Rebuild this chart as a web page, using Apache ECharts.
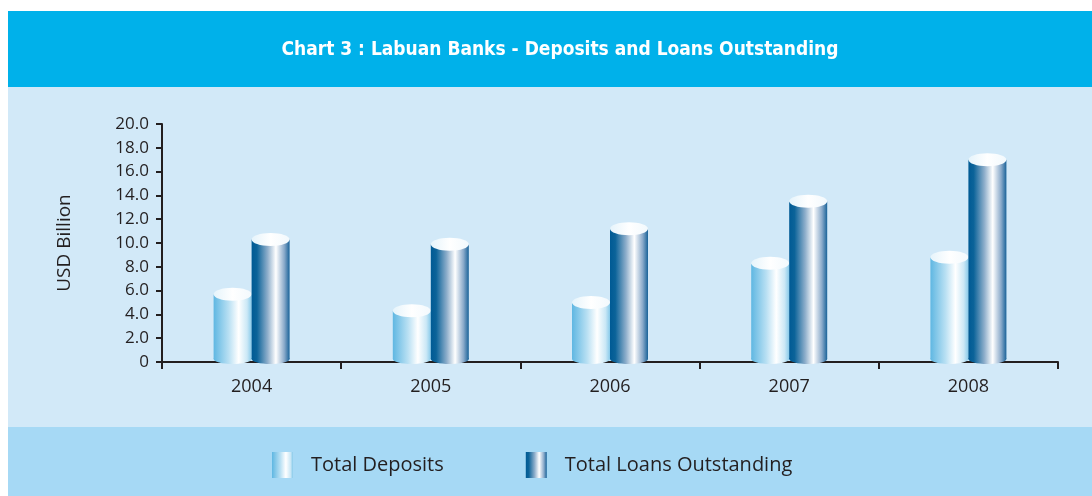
<!DOCTYPE html>
<html>
<head>
<meta charset="utf-8">
<script src="https://cdn.jsdelivr.net/npm/echarts@6/dist/echarts.min.js"></script>
<style>
  html, body { margin: 0; padding: 0; background: #fff; }
  #chart { width: 1092px; height: 496px; }
</style>
</head>
<body>
<div id="chart"></div>
<script>
// data
const years = ['2004', '2005', '2006', '2007', '2008'];
const deposits = [5.7, 4.3, 5.0, 8.3, 8.8];
const loans = [10.3, 9.9, 11.2, 13.5, 17.0];
const yTicks = [0, 2, 4, 6, 8, 10, 12, 14, 16, 18, 20];

const BAR_W = 38;

function grad(stops) {
  return new echarts.graphic.LinearGradient(0, 0, 1, 0, stops);
}
const depFill = [
  { offset: 0, color: '#5FB7E2' },
  { offset: 0.4, color: '#B9E0F3' },
  { offset: 0.66, color: '#FFFFFF' },
  { offset: 0.88, color: '#CBE8F6' },
  { offset: 1, color: '#88CAEA' }
];
const loanFill = [
  { offset: 0, color: '#005A94' },
  { offset: 0.14, color: '#0B6399' },
  { offset: 0.42, color: '#8EAECB' },
  { offset: 0.64, color: '#FFFFFF' },
  { offset: 0.86, color: '#8AAACA' },
  { offset: 1, color: '#1A6399' }
];

// a cylinder for one value, shifted left (deposits) or right (loans) of the category centre
function cylinder(fill, shift) {
  return function (params, api) {
    const base = api.coord([api.value(0), 0]);
    const top = api.coord([api.value(0), api.value(1)]);
    const x = base[0] + shift;
    const cx = x + BAR_W / 2;
    return {
      type: 'group',
      children: [
        { type: 'ellipse', shape: { cx: cx, cy: base[1] - 3, rx: BAR_W / 2, ry: 5 },
          style: { fill: grad(fill) } },
        { type: 'rect', shape: { x: x, y: top[1], width: BAR_W, height: base[1] - 3 - top[1] },
          style: { fill: grad(fill) } },
        { type: 'ellipse', shape: { cx: cx, cy: top[1], rx: BAR_W / 2, ry: 6.5 },
          style: { fill: grad([{ offset: 0, color: '#E6F4FB' }, { offset: 0.5, color: '#FFFFFF' }, { offset: 1, color: '#F2F9FD' }]) } }
      ]
    };
  };
}

const chart = echarts.init(document.getElementById('chart'));
chart.setOption({
  animation: false,
  graphic: [
    { type: 'rect', z: -10, shape: { x: 8, y: 11, width: 1084, height: 76 }, style: { fill: '#00B1EA' } },
    { type: 'rect', z: -10, shape: { x: 8, y: 87, width: 1084, height: 340 }, style: { fill: '#D2E9F8' } },
    { type: 'rect', z: -10, shape: { x: 8, y: 427, width: 1084, height: 69 }, style: { fill: '#A6D9F5' } }
  ],
  title: {
    text: 'Chart 3 : Labuan Banks - Deposits and Loans Outstanding',
    left: 555, top: 36, textAlign: 'center',
    textStyle: { color: '#fff', fontFamily: 'DejaVu Sans Condensed', fontWeight: 'bold', fontSize: 19 }
  },
  legend: {
    left: 267, top: 447,
    itemWidth: 21, itemHeight: 26, itemGap: 82,
    icon: 'rect',
    textStyle: { fontFamily: 'Open Sans', fontSize: 20, color: '#231F20', padding: [0, 0, 0, 13] },
    data: ['Total Deposits', 'Total Loans Outstanding']
  },
  grid: { left: 162, right: 34, top: 124, bottom: 134 },
  xAxis: {
    type: 'category',
    data: years,
    axisLine: { lineStyle: { color: '#231F20', width: 2 } },
    axisTick: { show: true, length: 7, lineStyle: { color: '#231F20', width: 2 } },
    axisLabel: { fontFamily: 'Open Sans', fontSize: 18, color: '#231F20', margin: 16 }
  },
  yAxis: {
    type: 'value',
    min: yTicks[0], max: yTicks[yTicks.length - 1], interval: 2,
    name: 'USD Billion', nameLocation: 'middle', nameGap: 88, nameRotate: 90,
    nameTextStyle: { fontFamily: 'Open Sans', fontSize: 19, color: '#231F20' },
    splitLine: { show: false },
    axisLine: { show: true, lineStyle: { color: '#231F20', width: 2 } },
    axisTick: { show: true, length: 6, lineStyle: { color: '#231F20', width: 2 } },
    axisLabel: {
      fontFamily: 'Open Sans', fontSize: 17, color: '#231F20', margin: 13,
      formatter: v => (v === 0 ? '0' : v.toFixed(1))
    }
  },
  series: [
    {
      name: 'Total Deposits', type: 'custom',
      itemStyle: { color: grad(depFill) },
      renderItem: cylinder(depFill, -BAR_W),
      data: deposits.map((v, i) => [i, v])
    },
    {
      name: 'Total Loans Outstanding', type: 'custom',
      itemStyle: { color: grad(loanFill) },
      renderItem: cylinder(loanFill, 0),
      data: loans.map((v, i) => [i, v])
    }
  ]
});
</script>
</body>
</html>
